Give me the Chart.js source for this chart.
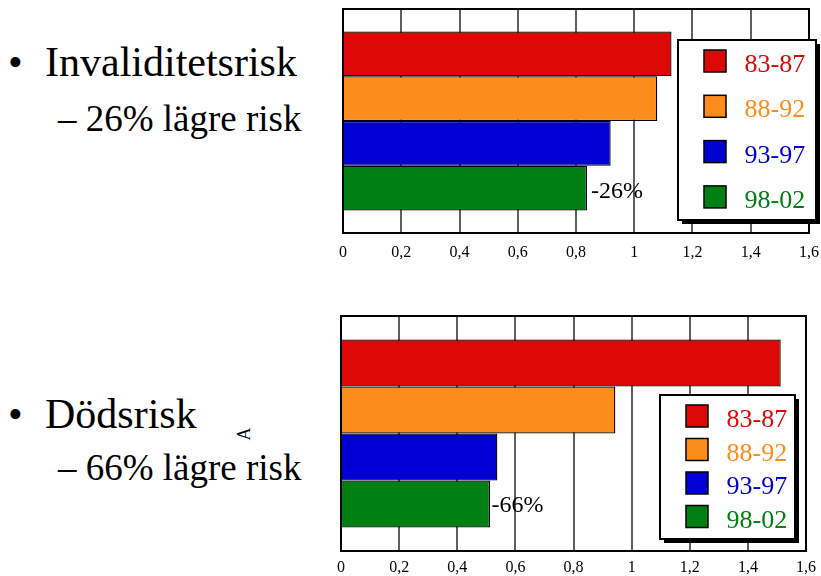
<!DOCTYPE html>
<html>
<head>
<meta charset="utf-8">
<script src="https://cdn.jsdelivr.net/npm/chart.js@4/dist/chart.umd.min.js"></script>
<style>
  html, body { margin: 0; padding: 0; background: #fff; }
  body { width: 821px; height: 576px; position: relative; overflow: hidden; color: #000; }
  .line { position: absolute; white-space: nowrap; font-family: 'Liberation Serif', serif; }
  .l1 { font-size: 42px; line-height: 42px; }
  .l2 { font-size: 37px; line-height: 37px; }
  .mark { position: absolute; font-family: 'Liberation Serif', serif; font-size: 18px; line-height: 18px; transform: rotate(-90deg); }
  canvas { position: absolute; }
</style>
</head>
<body>
<div class="line l1" style="left:8px; top:41px;">•</div>
<div class="line l1" id="title1" style="left:45px; top:41px;"></div>
<div class="line l2" id="sub1" style="left:58px; top:100px;"></div>

<div class="line l1" style="left:8px; top:393px;">•</div>
<div class="line l1" id="title2" style="left:45px; top:393px;"></div>
<div class="line l2" id="sub2" style="left:58px; top:449px;"></div>
<div class="mark" style="left:237px; top:425px;">A</div>

<canvas id="chartInvaliditet" width="491" height="270" style="left:330px; top:0px;"></canvas>
<canvas id="chartDod" width="491" height="276" style="left:330px; top:300px;"></canvas>

<script>
// Periods and relative risks per outcome
const periods = ['83-87', '88-92', '93-97', '98-02'];
const invaliditetsrisk = [1.128, 1.079, 0.919, 0.838];
const dodsrisk = [1.513, 0.944, 0.538, 0.513];
const outcomeTitles = ['Invaliditetsrisk', 'Dödsrisk'];
const xTickLabels = ['0', '0,2', '0,4', '0,6', '0,8', '1', '1,2', '1,4', '1,6'];
const seriesColors = ['#dd0806', '#fc8c1c', '#0000d4', '#007f12'];

// Change from first to last period, in whole percent
function changePct(values) {
  return Math.round((values[values.length - 1] / values[0] - 1) * 100);
}

const pctInv = changePct(invaliditetsrisk);
const pctDod = changePct(dodsrisk);
document.getElementById('title1').textContent = outcomeTitles[0];
document.getElementById('sub1').textContent = '– ' + Math.abs(pctInv) + '% lägre risk';
document.getElementById('title2').textContent = outcomeTitles[1];
document.getElementById('sub2').textContent = '– ' + Math.abs(pctDod) + '% lägre risk';

const SERIF = "'Liberation Serif', serif";

// Black frame around the plot area
const framePlugin = {
  id: 'frame',
  afterDatasetsDraw(chart) {
    const a = chart.chartArea, ctx = chart.ctx;
    ctx.save();
    ctx.strokeStyle = '#000';
    ctx.lineWidth = 2;
    ctx.strokeRect(a.left, a.top, a.right - a.left, a.bottom - a.top);
    ctx.restore();
  }
};

// Percent change written just right of the last bar
const changeLabelPlugin = {
  id: 'changeLabel',
  afterDatasetsDraw(chart, args, opts) {
    const n = chart.data.datasets.length;
    const first = chart.data.datasets[0].data[0];
    const last = chart.data.datasets[n - 1].data[0];
    const pct = Math.round((last / first - 1) * 100);
    const bar = chart.getDatasetMeta(n - 1).data[0];
    const ctx = chart.ctx;
    ctx.save();
    ctx.fillStyle = '#000';
    ctx.font = '24px ' + SERIF;
    ctx.textBaseline = 'alphabetic';
    ctx.textAlign = 'left';
    ctx.fillText(pct + '%', bar.x + opts.dx, bar.y + opts.dy);
    ctx.restore();
  }
};

// Boxed legend with a drop shadow, inside the plot
const boxLegendPlugin = {
  id: 'boxLegend',
  afterDraw(chart, args, o) {
    const ctx = chart.ctx;
    ctx.save();
    ctx.fillStyle = '#000';
    ctx.fillRect(o.x + 4, o.y + 4, o.w, o.h);
    ctx.fillStyle = '#fff';
    ctx.fillRect(o.x, o.y, o.w, o.h);
    ctx.strokeStyle = '#000';
    ctx.lineWidth = 2;
    ctx.strokeRect(o.x, o.y, o.w, o.h);
    ctx.font = '26px ' + SERIF;
    ctx.textBaseline = 'alphabetic';
    chart.data.datasets.forEach((ds, i) => {
      const top = o.y + o.first + i * o.step;
      ctx.fillStyle = ds.backgroundColor;
      ctx.fillRect(o.x + 26, top, 22, 22);
      ctx.lineWidth = 1.5;
      ctx.strokeRect(o.x + 26, top, 22, 22);
      ctx.fillStyle = ds.backgroundColor;
      ctx.fillText(ds.label, o.x + 66.5, top + 22);
    });
    ctx.restore();
  }
};

function makeChart(id, values, layout) {
  return new Chart(document.getElementById(id), {
    type: 'bar',
    data: {
      labels: [''],
      datasets: periods.map((p, i) => ({
        label: p,
        data: [values[i]],
        backgroundColor: seriesColors[i],
        borderColor: '#000',
        borderWidth: 1.3,
        categoryPercentage: 0.8,
        barPercentage: 1.0
      }))
    },
    options: {
      indexAxis: 'y',
      responsive: false,
      animation: false,
      devicePixelRatio: 1,
      layout: { padding: layout.padding },
      scales: {
        x: {
          min: 0,
          max: 1.6,
          afterFit(scale) { scale.height = layout.axisHeight; },
          ticks: {
            stepSize: 0.2,
            autoSkip: false,
            maxRotation: 0,
            padding: 0,
            color: '#000',
            font: { family: SERIF, size: 16 },
            callback: (v, i) => xTickLabels[i]
          },
          grid: {
            color: '#606060',
            lineWidth: 2,
            drawTicks: true,
            tickLength: layout.labelGap,
            tickColor: 'rgba(0,0,0,0)'
          },
          border: { display: false }
        },
        y: { display: false }
      },
      plugins: {
        legend: { display: false },
        tooltip: { enabled: false },
        changeLabel: layout.change,
        boxLegend: layout.legend
      }
    },
    plugins: [framePlugin, changeLabelPlugin, boxLegendPlugin]
  });
}

makeChart('chartInvaliditet', invaliditetsrisk, {
  padding: { left: 13, right: 12, top: 9, bottom: 0 },
  axisHeight: 37,
  labelGap: 10,
  change: { dx: 4, dy: 10 },
  legend: { x: 348, y: 40, w: 138, h: 180, first: 10, step: 45.3 }
});

makeChart('chartDod', dodsrisk, {
  padding: { left: 11, right: 15, top: 16, bottom: 0 },
  axisHeight: 25,
  labelGap: 7,
  change: { dx: 1.5, dy: 8 },
  legend: { x: 330, y: 95, w: 135, h: 144, first: 10, step: 33.5 }
});
</script>
</body>
</html>
